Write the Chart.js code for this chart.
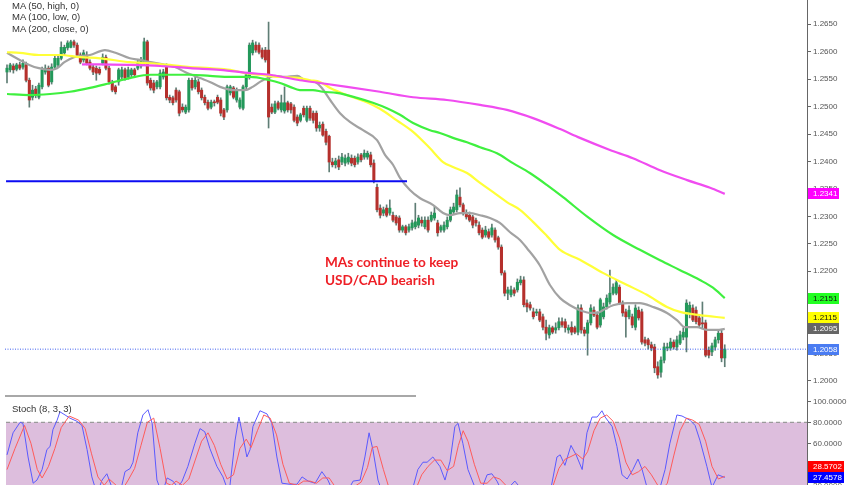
<!DOCTYPE html>
<html><head><meta charset="utf-8">
<script src="https://cdn.jsdelivr.net/npm/chart.js@4.4.1/dist/chart.umd.min.js"></script>
<style>
html,body{margin:0;padding:0;background:#fff;}
#wrap{position:relative;width:852px;height:485px;overflow:hidden;background:#fff;}
canvas{position:absolute;left:0;}
.leg{position:absolute;left:12px;font:9.5px "Liberation Sans",Arial,sans-serif;color:#333;white-space:nowrap;line-height:11px;}
.note{position:absolute;left:325px;font:bold 13.6px Lato,sans-serif;color:#ee1f26;line-height:18.5px;white-space:nowrap;}
</style></head><body>
<div id="wrap">
<canvas id="main" width="852" height="397" style="top:0"></canvas>
<canvas id="stoch" width="852" height="88" style="top:397px"></canvas>
<div class="leg" style="top:0px">MA (50, high, 0)</div>
<div class="leg" style="top:11px">MA (100, low, 0)</div>
<div class="leg" style="top:22.5px">MA (200, close, 0)</div>
<div class="leg" style="top:402.5px">Stoch (8, 3, 3)</div>
<div class="note" style="top:252.5px">MAs continue to keep<br>USD/CAD bearish</div>
</div>
<script>
// ---------- DATA ----------
const open = [
1.2563,1.2567,1.2574,1.2568,1.2576,1.2572,1.2576,1.2548,1.2517,1.2532,
1.2517,1.2536,1.2563,1.2570,1.2545,1.2572,1.2576,1.2588,1.2598,1.2607,
1.2608,1.2618,1.2612,1.2594,1.2585,1.2594,1.2581,1.2572,1.2570,1.2568,
1.2579,1.2590,1.2570,1.2543,1.2536,1.2545,1.2554,1.2567,1.2554,1.2558,
1.2567,1.2570,1.2574,1.2579,1.2618,1.2548,1.2543,1.2536,1.2536,1.2554,
1.2572,1.2517,1.2516,1.2530,1.2527,1.2499,1.2490,1.2494,1.2548,1.2536,
1.2545,1.2530,1.2517,1.2508,1.2499,1.2508,1.2517,1.2512,1.2494,1.2494,
1.2525,1.2534,1.2512,1.2499,1.2497,1.2536,1.2554,1.2598,1.2612,1.2612,
1.2603,1.2603,1.2603,1.2499,1.2490,1.2507,1.2494,1.2492,1.2507,1.2505,
1.2499,1.2481,1.2475,1.2497,1.2475,1.2497,1.2488,1.2488,1.2461,1.2468,
1.2455,1.2446,1.2399,1.2394,1.2403,1.2399,1.2397,1.2399,1.2406,1.2406,
1.2399,1.2412,1.2408,1.2408,1.2412,1.2397,1.2353,1.2315,1.2306,1.2315,
1.2306,1.2302,1.2299,1.2297,1.2275,1.2281,1.2275,1.2279,1.2281,1.2284,
1.2293,1.2281,1.2293,1.2293,1.2297,1.2288,1.2275,1.2275,1.2281,1.2293,
1.2308,1.2312,1.2335,1.2321,1.2306,1.2302,1.2299,1.2293,1.2284,1.2275,
1.2266,1.2272,1.2266,1.2275,1.2261,1.2244,1.2197,1.2160,1.2157,1.2166,
1.2166,1.2179,1.2184,1.2142,1.2139,1.2126,1.2124,1.2126,1.2117,1.2098,
1.2084,1.2097,1.2093,1.2097,1.2108,1.2108,1.2093,1.2098,1.2097,1.2089,
1.2133,1.2093,1.2087,1.2106,1.2129,1.2120,1.2102,1.2117,1.2135,1.2144,
1.2160,1.2160,1.2171,1.2142,1.2126,1.2117,1.2117,1.2098,1.2129,1.2126,
1.2075,1.2075,1.2066,1.2062,1.2026,1.2016,1.2038,1.2060,1.2060,1.2071,
1.2062,1.2069,1.2080,1.2080,1.2124,1.2133,1.2129,1.2115,1.2106,1.2106,
1.2056,1.2053,1.2062,1.2075,1.2087,1.2042];
const high = [
1.2576,1.2579,1.2578,1.2579,1.2581,1.2585,1.2581,1.2552,1.2539,1.2537,
1.2543,1.2572,1.2576,1.2574,1.2578,1.2594,1.2594,1.2618,1.2612,1.2620,
1.2621,1.2621,1.2616,1.2598,1.2603,1.2600,1.2585,1.2576,1.2574,1.2572,
1.2596,1.2594,1.2574,1.2548,1.2539,1.2570,1.2572,1.2570,1.2572,1.2570,
1.2570,1.2585,1.2590,1.2625,1.2621,1.2552,1.2548,1.2548,1.2567,1.2568,
1.2578,1.2521,1.2519,1.2534,1.2530,1.2505,1.2503,1.2552,1.2552,1.2554,
1.2550,1.2534,1.2521,1.2512,1.2512,1.2512,1.2521,1.2516,1.2497,1.2539,
1.2539,1.2537,1.2534,1.2516,1.2539,1.2561,1.2616,1.2621,1.2618,1.2616,
1.2607,1.2608,1.2654,1.2505,1.2510,1.2510,1.2521,1.2536,1.2510,1.2508,
1.2503,1.2485,1.2488,1.2501,1.2501,1.2501,1.2492,1.2492,1.2472,1.2472,
1.2459,1.2448,1.2406,1.2406,1.2410,1.2415,1.2412,1.2415,1.2412,1.2410,
1.2414,1.2415,1.2421,1.2419,1.2417,1.2403,1.2359,1.2321,1.2317,1.2321,
1.2330,1.2308,1.2302,1.2301,1.2284,1.2284,1.2286,1.2293,1.2324,1.2302,
1.2299,1.2299,1.2299,1.2308,1.2317,1.2293,1.2284,1.2290,1.2299,1.2317,
1.2324,1.2348,1.2352,1.2324,1.2312,1.2308,1.2302,1.2297,1.2290,1.2279,
1.2282,1.2277,1.2286,1.2279,1.2264,1.2248,1.2201,1.2171,1.2173,1.2170,
1.2186,1.2191,1.2190,1.2148,1.2144,1.2133,1.2131,1.2131,1.2122,1.2111,
1.2102,1.2100,1.2106,1.2115,1.2115,1.2113,1.2102,1.2108,1.2100,1.2139,
1.2139,1.2098,1.2111,1.2139,1.2135,1.2126,1.2151,1.2142,1.2157,1.2202,
1.2177,1.2184,1.2175,1.2146,1.2131,1.2137,1.2122,1.2139,1.2135,1.2131,
1.2080,1.2078,1.2071,1.2067,1.2035,1.2044,1.2069,1.2069,1.2078,1.2075,
1.2082,1.2091,1.2097,1.2148,1.2144,1.2139,1.2135,1.2120,1.2144,1.2111,
1.2062,1.2069,1.2080,1.2093,1.2093,1.2066];
const low = [
1.2543,1.2563,1.2561,1.2565,1.2567,1.2568,1.2545,1.2499,1.2512,1.2516,
1.2514,1.2532,1.2559,1.2536,1.2541,1.2568,1.2572,1.2585,1.2594,1.2603,
1.2607,1.2608,1.2590,1.2578,1.2581,1.2576,1.2567,1.2558,1.2548,1.2558,
1.2576,1.2567,1.2541,1.2527,1.2523,1.2539,1.2550,1.2548,1.2550,1.2554,
1.2554,1.2567,1.2570,1.2576,1.2539,1.2530,1.2525,1.2532,1.2532,1.2550,
1.2512,1.2507,1.2503,1.2508,1.2483,1.2490,1.2487,1.2490,1.2530,1.2532,
1.2523,1.2512,1.2503,1.2494,1.2496,1.2501,1.2505,1.2483,1.2476,1.2490,
1.2521,1.2514,1.2508,1.2496,1.2494,1.2532,1.2550,1.2594,1.2599,1.2596,
1.2587,1.2581,1.2461,1.2487,1.2487,1.2494,1.2490,1.2488,1.2490,1.2488,
1.2472,1.2465,1.2472,1.2481,1.2472,1.2475,1.2470,1.2455,1.2455,1.2446,
1.2430,1.2381,1.2390,1.2388,1.2385,1.2394,1.2392,1.2395,1.2392,1.2390,
1.2395,1.2399,1.2404,1.2404,1.2390,1.2361,1.2308,1.2297,1.2301,1.2299,
1.2302,1.2290,1.2284,1.2271,1.2271,1.2266,1.2271,1.2275,1.2277,1.2279,
1.2282,1.2277,1.2271,1.2290,1.2293,1.2264,1.2271,1.2271,1.2277,1.2290,
1.2304,1.2308,1.2317,1.2302,1.2295,1.2290,1.2279,1.2282,1.2266,1.2259,
1.2262,1.2259,1.2262,1.2253,1.2240,1.2193,1.2155,1.2148,1.2153,1.2155,
1.2162,1.2175,1.2135,1.2126,1.2129,1.2113,1.2119,1.2108,1.2093,1.2075,
1.2078,1.2086,1.2087,1.2093,1.2098,1.2089,1.2087,1.2084,1.2086,1.2084,
1.2087,1.2082,1.2047,1.2102,1.2117,1.2095,1.2098,1.2113,1.2131,1.2140,
1.2157,1.2157,1.2139,1.2118,1.2080,1.2113,1.2097,1.2093,1.2111,1.2067,
1.2064,1.2058,1.2055,1.2015,1.2005,1.2007,1.2033,1.2055,1.2056,1.2058,
1.2056,1.2066,1.2075,1.2053,1.2115,1.2108,1.2104,1.2098,1.2096,1.2044,
1.2042,1.2046,1.2056,1.2069,1.2035,1.2026];
const close = [
1.2570,1.2576,1.2567,1.2576,1.2570,1.2579,1.2548,1.2512,1.2530,1.2521,
1.2539,1.2567,1.2570,1.2539,1.2572,1.2588,1.2588,1.2608,1.2608,1.2616,
1.2618,1.2612,1.2594,1.2581,1.2598,1.2579,1.2570,1.2563,1.2561,1.2561,
1.2590,1.2570,1.2545,1.2530,1.2527,1.2567,1.2567,1.2552,1.2567,1.2567,
1.2558,1.2581,1.2585,1.2618,1.2543,1.2534,1.2530,1.2545,1.2561,1.2563,
1.2516,1.2512,1.2507,1.2512,1.2488,1.2494,1.2499,1.2548,1.2534,1.2548,
1.2527,1.2516,1.2507,1.2497,1.2508,1.2507,1.2508,1.2488,1.2481,1.2536,
1.2536,1.2517,1.2530,1.2512,1.2536,1.2558,1.2612,1.2616,1.2603,1.2599,
1.2590,1.2585,1.2481,1.2490,1.2505,1.2497,1.2507,1.2507,1.2494,1.2494,
1.2475,1.2470,1.2485,1.2485,1.2497,1.2479,1.2475,1.2461,1.2466,1.2448,
1.2435,1.2399,1.2394,1.2401,1.2390,1.2408,1.2406,1.2408,1.2397,1.2394,
1.2408,1.2403,1.2415,1.2415,1.2394,1.2366,1.2312,1.2302,1.2312,1.2302,
1.2315,1.2293,1.2288,1.2275,1.2281,1.2270,1.2281,1.2288,1.2290,1.2297,
1.2288,1.2293,1.2275,1.2302,1.2306,1.2270,1.2281,1.2284,1.2293,1.2312,
1.2317,1.2339,1.2321,1.2306,1.2299,1.2293,1.2284,1.2288,1.2270,1.2262,
1.2275,1.2262,1.2279,1.2257,1.2244,1.2197,1.2160,1.2166,1.2166,1.2160,
1.2180,1.2184,1.2139,1.2135,1.2133,1.2117,1.2126,1.2111,1.2098,1.2087,
1.2097,1.2089,1.2097,1.2108,1.2102,1.2097,1.2097,1.2089,1.2089,1.2133,
1.2093,1.2087,1.2106,1.2133,1.2120,1.2098,1.2148,1.2135,1.2151,1.2160,
1.2171,1.2179,1.2142,1.2124,1.2117,1.2129,1.2102,1.2133,1.2115,1.2071,
1.2069,1.2066,1.2060,1.2024,1.2011,1.2038,1.2062,1.2062,1.2071,1.2062,
1.2075,1.2084,1.2089,1.2142,1.2138,1.2111,1.2108,1.2102,1.2104,1.2047,
1.2047,1.2064,1.2075,1.2087,1.2042,1.2058];

// moving averages: [candle index, price]
const maGray = [[0,1.2598],[4,1.2585],[7,1.2576],[10,1.2570],[13.5,1.2567],[15.7,1.2570],[18,1.2581],[21,1.2590],[26,1.2594],[30.7,1.2603],[34,1.2598],[38.5,1.2588],[41.7,1.2585],[45,1.2581],[49.5,1.2576],[52.7,1.2572],[55.8,1.2563],[60.5,1.2552],[63.6,1.2545],[66.8,1.2536],[71.5,1.2530],[74.6,1.2530],[77,1.2536],[79.3,1.2545],[81.8,1.2552],[84,1.2556],[87,1.2554],[91,1.2556],[93.4,1.2548],[96.6,1.2545],[98.7,1.2534],[101.3,1.2512],[104.4,1.2488],[107.5,1.2472],[111.6,1.2457],[116,1.2439],[118.5,1.2412],[121,1.2394],[123.2,1.2370],[126.3,1.2348],[129.5,1.2333],[133.5,1.2321],[136.7,1.2306],[138.9,1.2302],[142,1.2306],[145,1.2306],[148.3,1.2302],[151.4,1.2297],[154.5,1.2288],[157.7,1.2271],[160.8,1.2257],[163,1.2242],[167,1.2211],[170.2,1.2175],[173.4,1.2151],[176.5,1.2138],[179.6,1.2129],[182.8,1.2124],[185,1.2124],[186.8,1.2129],[190,1.2138],[194.4,1.2142],[198.4,1.2142],[202.5,1.2135],[206.9,1.2124],[210,1.2111],[212.5,1.2098],[216.3,1.2098],[219.4,1.2093],[222.6,1.2093],[225,1.2095]];
const ma50High = [[0,1.2599],[4,1.2598],[10,1.2594],[16.7,1.2594],[22.9,1.2590],[29.2,1.2588],[38.5,1.2581],[45,1.2579],[51,1.2576],[57.4,1.2572],[63.6,1.2570],[70,1.2567],[74.6,1.2561],[79.3,1.2558],[85.6,1.2554],[91.8,1.2552],[95,1.2548],[98.1,1.2545],[101.3,1.2534],[107.5,1.2519],[112.8,1.2508],[116.9,1.2496],[122.2,1.2475],[127.3,1.2454],[132.6,1.2424],[136.7,1.2399],[139.8,1.2390],[144.2,1.2379],[148.3,1.2361],[152.4,1.2344],[156.7,1.2326],[160.8,1.2312],[164.9,1.2290],[169.3,1.2264],[173.4,1.2239],[179.6,1.2221],[186.8,1.2197],[194.4,1.2175],[200.6,1.2157],[206.9,1.2135],[211,1.2126],[217.2,1.2120],[225,1.2115]];
const ma100Low = [[0,1.2523],[7,1.2521],[13.5,1.2523],[19.7,1.2527],[26,1.2534],[32.3,1.2543],[38.5,1.2552],[45,1.2558],[51,1.2558],[57.4,1.2558],[63.6,1.2556],[70,1.2554],[76.2,1.2554],[82.4,1.2548],[85.6,1.2543],[88.7,1.2536],[91.8,1.2530],[95.9,1.2530],[99,1.2527],[103.4,1.2525],[109.7,1.2516],[114.7,1.2507],[119.1,1.2497],[123.2,1.2485],[127.3,1.2470],[132.6,1.2457],[135.7,1.2452],[139.8,1.2443],[144.2,1.2435],[148.3,1.2426],[153.6,1.2415],[158.6,1.2397],[163.9,1.2379],[169.3,1.2357],[174.3,1.2335],[182,1.2299],[190,1.2266],[198.4,1.2239],[204.7,1.2220],[211,1.2202],[217.2,1.2184],[221.3,1.2170],[225,1.2151]];
const ma200Close = [[23.5,1.2577],[29.2,1.2577],[38.5,1.2576],[48,1.2574],[57.4,1.2570],[66.8,1.2567],[76.2,1.2561],[82.4,1.2558],[91.8,1.2548],[98.1,1.2543],[106.6,1.2536],[116.9,1.2527],[127.3,1.2517],[137.9,1.2512],[148.3,1.2503],[156.7,1.2494],[164.9,1.2479],[173.4,1.2459],[179.6,1.2443],[189,1.2421],[196.2,1.2406],[204.7,1.2384],[213.2,1.2366],[220.4,1.2352],[225,1.2341]];

const supportLevel = 1.2364;
const supportRange = [-0.3, 125.4];
const priceTicks = [1.2000,1.2050,1.2100,1.2150,1.2200,1.2250,1.2300,1.2350,1.2400,1.2450,1.2500,1.2550,1.2600,1.2650];

// stochastic %K / %D: [candle index, value]
const stochK = [[0,49],[1.9,70],[4.1,80],[5,79],[6.6,47],[8.2,22],[9.4,25],[11,35],[12.5,54],[13.5,57],[14.4,73],[15.7,82],[16.6,90],[18.2,87],[19.7,84],[21.9,81],[23.5,77],[25.1,54],[26.6,28],[28.2,12],[29.8,25],[31.3,31],[32.9,18],[35.4,12],[37,33],[38.6,36],[39.5,42],[41,70],[42.6,87],[44.2,92],[45.5,79],[47,25],[48.6,12],[50.2,27],[52,24],[53.6,18],[54.9,24],[56.7,38],[58.9,60],[60.5,74],[62,71],[63.6,55],[65.8,38],[67.7,28],[69.6,12],[71.5,63],[72.7,85],[74,66],[75.2,47],[76.2,54],[77.1,76],[79.3,91],[81.5,88],[83,79],[84.6,47],[86.2,22],[88.7,21],[90.9,21],[92.5,28],[94.4,24],[96.6,22],[98.7,33],[100.6,25],[102.5,12],[106,10],[108.5,24],[110.7,25],[112.2,47],[113.5,70],[114.7,54],[116.3,25],[118,10],[123,5],[127,15],[128.8,35],[130.4,42],[131.7,42],[133.5,47],[135.7,38],[137.3,25],[138.9,43],[140.4,76],[141.4,79],[142.9,60],[144.5,35],[146.7,18],[148.6,15],[150.5,30],[152,31],[153.6,24],[155.5,12],[159.2,24],[160.8,18],[165.5,8],[170.2,12],[172.4,47],[173.4,49],[174.9,39],[176.8,58],[178.4,49],[180.3,35],[181.8,70],[183.4,85],[185,85],[186.5,91],[187.5,85],[189.7,76],[191.2,57],[192.8,30],[194.4,26],[196.2,35],[197.8,45],[199.1,35],[200.9,15],[204,10],[206.3,35],[207.8,60],[210,87],[211.6,86],[214.1,82],[215.7,77],[217.2,63],[219.4,38],[221,18],[222.9,30],[225,27.4578]];
const stochD = [[0,35],[2.5,55],[5.5,77],[7.5,60],[9.5,35],[11,27],[13,38],[15,55],[17,75],[19.5,86],[22.5,82],[24.5,74],[26.5,50],[28.5,28],[30.5,20],[32,26],[33.5,22],[36,15],[38,25],[40,36],[42,58],[44,80],[46,84],[48,55],[50,22],[51.5,20],[53,24],[55,20],[57,26],[59,44],[61,62],[63,70],[65,58],[67,40],[69,26],[71,30],[73,55],[75,64],[76.5,56],[78.5,72],[80.5,87],[82.5,84],[84.5,68],[86.5,40],[88.5,22],[91,20],[93,24],[95,24],[97,22],[99,27],[101,27],[103,18],[106,12],[108.5,18],[111,23],[113,37],[114.5,56],[116,57],[118,35],[120,15],[124,8],[128,15],[130,30],[132,38],[134,44],[136,44],[138,34],[140,38],[141.5,58],[143,72],[144.5,62],[146.5,40],[148.5,22],[150.5,22],[152.5,28],[154.5,26],[157,18],[160,20],[163,15],[168,10],[171,18],[173,36],[175,45],[176.5,47],[178.5,50],[180.5,45],[182,52],[184,72],[186,84],[188,87],[190,81],[192,65],[194,42],[196,30],[198,33],[200,38],[202,30],[205,15],[207,22],[209,48],[211,72],[213,84],[215,82],[217,78],[219,62],[221,38],[223,26],[225,28.5702]];
const stochTicks = [20,40,60,80,100];
const stochUpper = 80;

// ---------- LAYOUT / STYLE ----------
const X0 = 7, DX = 3.19, PLOT_LEFT = 5, PLOT_RIGHT = 807;
const xMin = (PLOT_LEFT - X0) / DX, xMax = (PLOT_RIGHT - X0) / DX;
const AXIS_W = 852 - PLOT_RIGHT;
const FONT = '"Liberation Sans", Arial, sans-serif';
const GREEN = '#23985a', RED = '#b5302c', WICK = '#5f7d75';
const lastIdx = close.length - 1;
const pts = a => a.map(p => ({x: p[0], y: p[1]}));

const axisY = (min, max, tickVals, fmt) => ({
  type: 'linear', position: 'right', min, max,
  afterBuildTicks: s => { s.ticks = tickVals.map(v => ({value: v})); },
  afterFit: s => { s.width = AXIS_W; s.paddingTop = 0; s.paddingBottom = 0; },
  ticks: { callback: fmt, font: {family: FONT, size: 8}, color: '#555', padding: 2, autoSkip: false },
  grid: { drawOnChartArea: false, drawTicks: true, tickLength: 4, color: '#666' },
  border: { display: true, color: '#666', width: 1 }
});
const axisX = { type: 'linear', min: xMin, max: xMax, offset: false, display: false };

function drawTag(ctx, ca, py, text, bg, fg, w) {
  ctx.fillStyle = bg;
  ctx.fillRect(ca.right + 1, Math.round(py - 5.5), w, 11);
  ctx.fillStyle = fg;
  ctx.font = '8px ' + FONT;
  ctx.textBaseline = 'middle';
  ctx.textAlign = 'left';
  ctx.fillText(text, ca.right + 6, Math.round(py - 5.5) + 6);
}

const mainTags = {
  id: 'mainTags',
  afterDraw(chart) {
    const ctx = chart.ctx, ca = chart.chartArea, y = chart.scales.y;
    ctx.save();
    // panel separator fragment
    ctx.strokeStyle = '#a8a8a8'; ctx.lineWidth = 2;
    ctx.beginPath(); ctx.moveTo(5, 396); ctx.lineTo(416, 396); ctx.stroke();
    const items = [
      [ma200Close[ma200Close.length-1][1], '#ff00ff', '#fff'],
      [ma100Low[ma100Low.length-1][1], '#22ff22', '#111'],
      [ma50High[ma50High.length-1][1], '#ffff00', '#111'],
      [maGray[maGray.length-1][1], '#666666', '#fff'],
      [close[lastIdx], '#4a7cf2', '#fff']
    ];
    items.forEach(t => drawTag(ctx, ca, y.getPixelForValue(t[0]), t[0].toFixed(4), t[1], t[2], 31));
    ctx.restore();
  }
};

new Chart(document.getElementById('main'), {
  type: 'bar',
  data: {
    datasets: [
      { type: 'line', data: [{x: supportRange[0], y: supportLevel}, {x: supportRange[1], y: supportLevel}], borderColor: '#0b0bf2', borderWidth: 2, pointRadius: 0, order: 0 },
      { type: 'line', data: [{x: xMin, y: close[lastIdx]}, {x: xMax, y: close[lastIdx]}], borderColor: '#3f5ff0', borderWidth: 1, borderDash: [1, 1.5], pointRadius: 0, order: 0 },
      { type: 'line', data: pts(ma200Close), borderColor: '#f04cf0', borderWidth: 2.2, pointRadius: 0, cubicInterpolationMode: 'monotone', order: 1 },
      { type: 'line', data: pts(ma100Low), borderColor: '#3ff03f', borderWidth: 2.2, pointRadius: 0, cubicInterpolationMode: 'monotone', order: 1 },
      { type: 'line', data: pts(ma50High), borderColor: '#ffff38', borderWidth: 2.2, pointRadius: 0, cubicInterpolationMode: 'monotone', order: 1 },
      { type: 'line', data: pts(maGray), borderColor: '#a2a2a2', borderWidth: 2.2, pointRadius: 0, cubicInterpolationMode: 'monotone', order: 1 },
      { type: 'bar', data: close.map((c, i) => ({x: i, y: [open[i], c]})), backgroundColor: close.map((c, i) => c >= open[i] ? GREEN : RED), barThickness: 2.4, minBarLength: 1, grouped: false, borderWidth: 0, order: 2 },
      { type: 'bar', data: close.map((c, i) => ({x: i, y: [low[i], high[i]]})), backgroundColor: WICK, barThickness: 1, grouped: false, borderWidth: 0, order: 3 }
    ]
  },
  options: {
    responsive: false, animation: false, events: [],
    layout: { padding: { left: PLOT_LEFT, right: 0, top: 0, bottom: 0 } },
    plugins: { legend: { display: false }, tooltip: { enabled: false } },
    scales: { x: axisX, y: axisY(1.2 - 16/5488, 1.2 + 381/5488, priceTicks, v => v.toFixed(4)) }
  },
  plugins: [mainTags]
});

const stochDeco = {
  id: 'stochDeco',
  beforeDatasetsDraw(chart) {
    const ctx = chart.ctx, ca = chart.chartArea, y = chart.scales.y;
    const py = y.getPixelForValue(stochUpper);
    ctx.save();
    ctx.fillStyle = '#ddbedd';
    ctx.fillRect(ca.left + 1, py, ca.right - ca.left - 1, ca.bottom - py);
    ctx.strokeStyle = '#9a9a9a'; ctx.lineWidth = 1.3; ctx.setLineDash([4, 3]);
    ctx.beginPath(); ctx.moveTo(ca.left + 1, py); ctx.lineTo(ca.right, py); ctx.stroke();
    ctx.restore();
  },
  afterDraw(chart) {
    const ctx = chart.ctx, ca = chart.chartArea, y = chart.scales.y;
    const kv = stochK[stochK.length-1][1], dv = stochD[stochD.length-1][1];
    const pk = y.getPixelForValue(kv);
    let pd = y.getPixelForValue(dv);
    if (Math.abs(pd - pk) < 11) pd = pk - 11;
    ctx.save();
    drawTag(ctx, ca, pd, dv.toFixed(4), '#ff0000', '#fff', 36);
    drawTag(ctx, ca, pk, kv.toFixed(4), '#0000ff', '#fff', 36);
    ctx.restore();
  }
};

new Chart(document.getElementById('stoch'), {
  type: 'line',
  data: {
    datasets: [
      { data: pts(stochD), borderColor: '#ff5b5b', borderWidth: 1, pointRadius: 0, tension: 0 },
      { data: pts(stochK), borderColor: '#5a5aff', borderWidth: 1, pointRadius: 0, tension: 0 }
    ]
  },
  options: {
    responsive: false, animation: false, events: [],
    layout: { padding: { left: PLOT_LEFT, right: 0, top: 0, bottom: 0 } },
    plugins: { legend: { display: false }, tooltip: { enabled: false } },
    scales: { x: axisX, y: axisY(20.29, 104.1, stochTicks, v => v.toFixed(4)) }
  },
  plugins: [stochDeco]
});
</script>
</body></html>
